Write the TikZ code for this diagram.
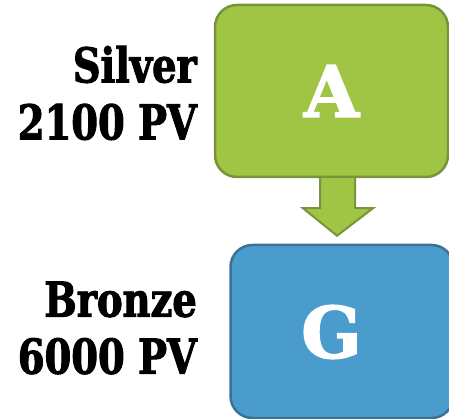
\documentclass[tikz,border=0pt]{standalone}
\usepackage{fontspec}
\setmainfont{DejaVu Serif}
\newfontfamily\sidefont[FakeStretch=0.80,FakeBold=2]{DejaVu Serif}
\newfontfamily\letterfont[FakeBold=2]{DejaVu Serif}
\usetikzlibrary{calc}
\definecolor{gfill}{HTML}{A0C545}
\definecolor{gline}{HTML}{77933C}
\definecolor{bfill}{HTML}{4A9CCC}
\definecolor{bline}{HTML}{3A7196}
\begin{document}
\begin{tikzpicture}[x=1pt,y=-1pt,
  box/.style={rounded corners=22pt, line width=2.5pt, inner sep=0pt,
    text=white, font=\letterfont\fontsize{71}{71}\selectfont\bfseries},
  side/.style={anchor=east, align=right, inner sep=0pt,
    font=\sidefont\fontsize{48}{57}\selectfont\bfseries}]
\useasboundingbox (0,0) rectangle (449,419);
\node[box, draw=gline, fill=gfill, minimum width=233pt, minimum height=172pt] (A) at (331.5,91) {A};
\node[box, draw=bline, fill=bfill, minimum width=223pt, minimum height=173pt] (G) at (342,331.5) {};
\node[text=white, font=\letterfont\fontsize{71}{71}\selectfont\bfseries] (Gl) at (331.5,332) {G};
\node[side] (s) at (197,93) {Silver\\2100 PV};
\node[side] (b) at (197,328) {Bronze\\6000 PV};
\draw[line width=2pt, draw=gline, fill=gfill, line join=miter]
  ($(A.south)+(-11.5,0)$) -- ($(A.south)+(-11.5,30)$) -- ($(A.south)+(-28.5,30)$)
  -- ($(G.north)+(-5,-8)$) -- ($(A.south)+(41.5,30)$) -- ($(A.south)+(23.5,30)$)
  -- ($(A.south)+(23.5,0)$);
\end{tikzpicture}
\end{document}
